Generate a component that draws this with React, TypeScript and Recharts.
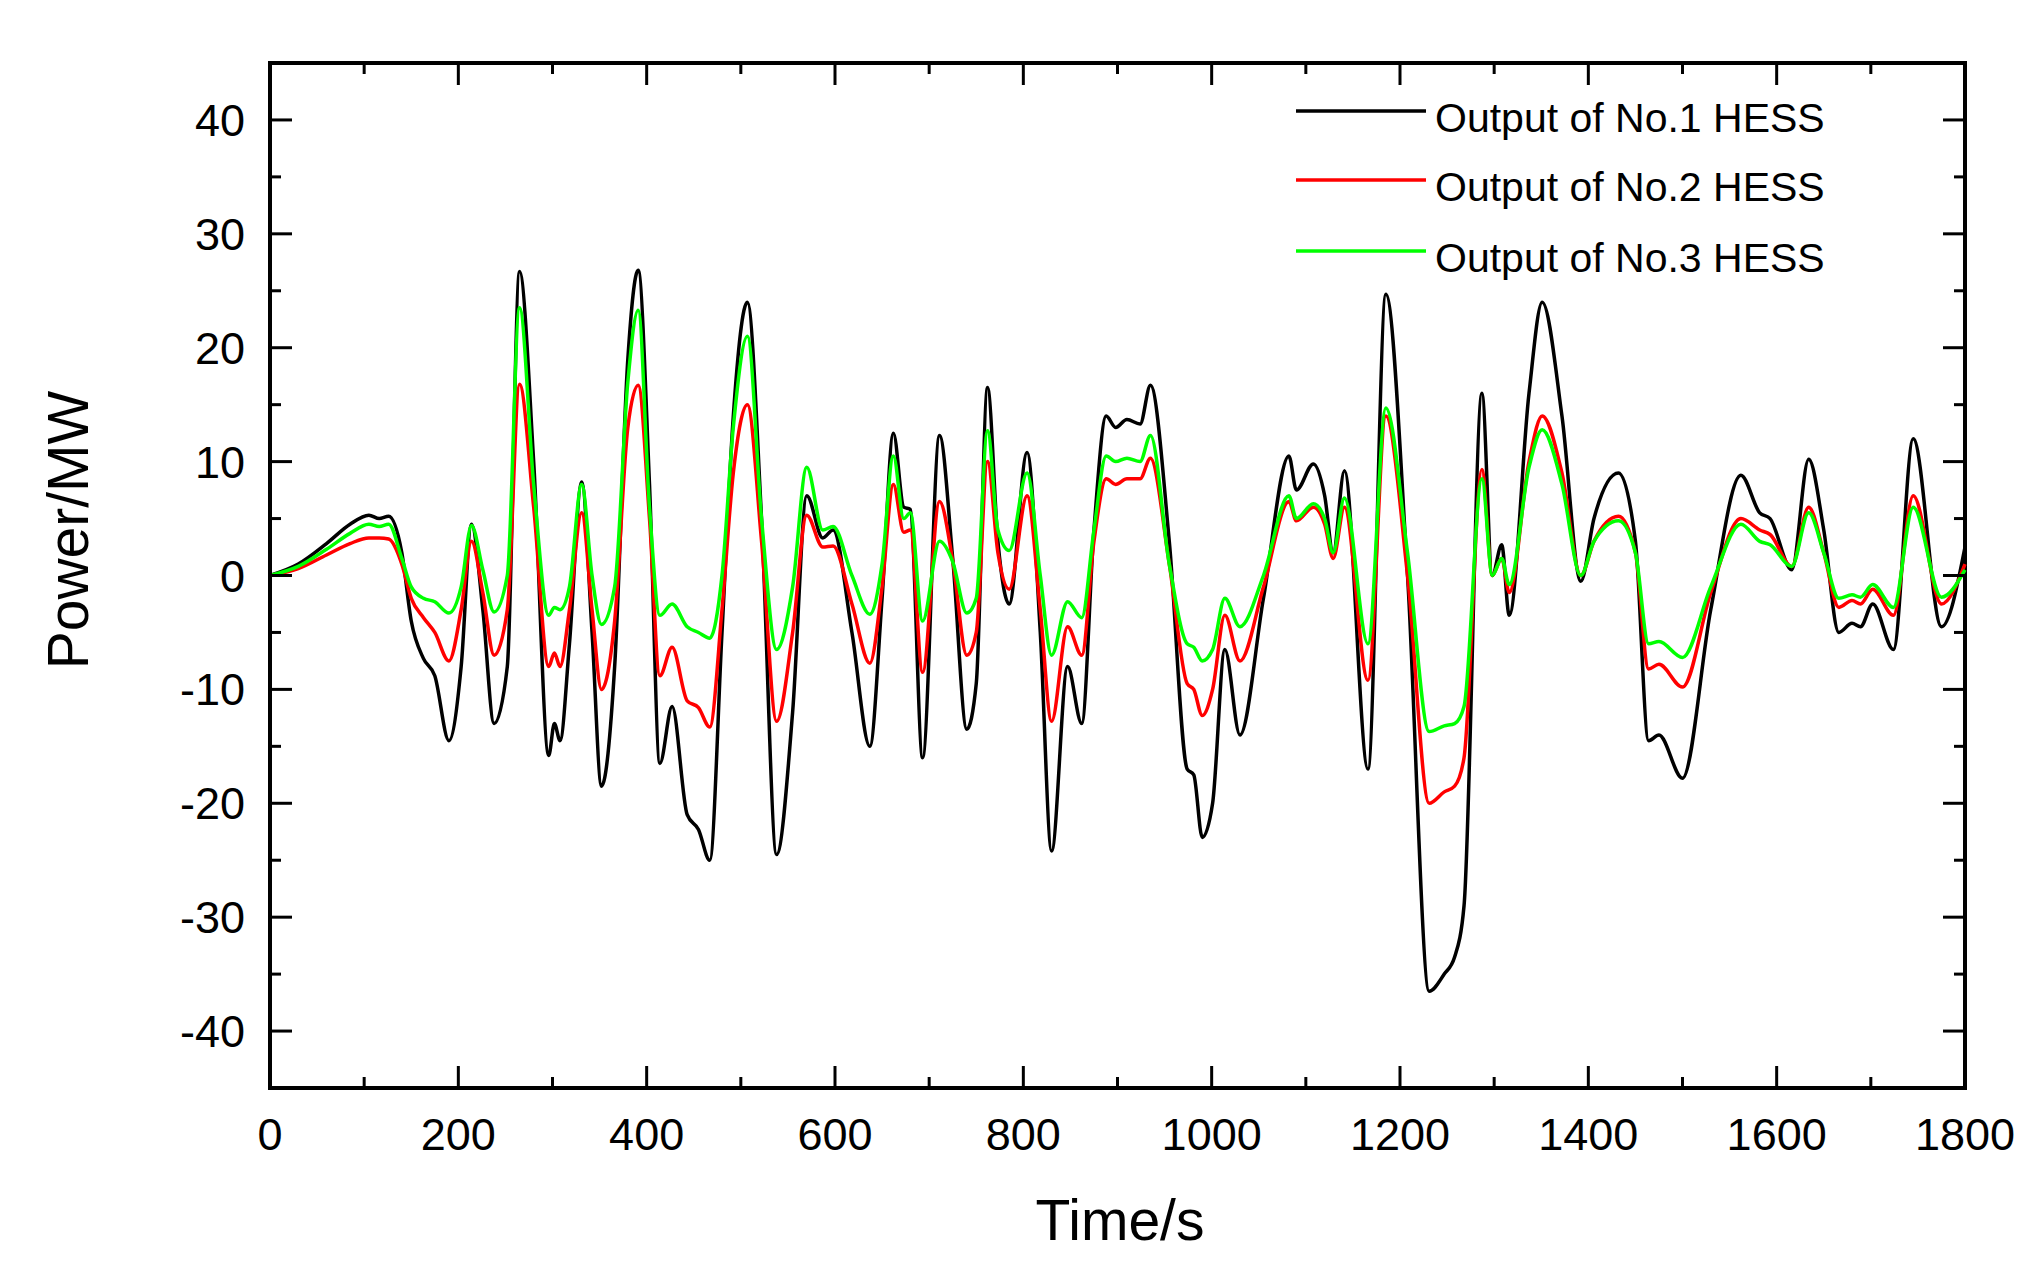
import React from "react";
import {
  LineChart,
  Line,
  XAxis,
  YAxis,
  Legend,
  ReferenceArea,
  Label,
} from "recharts";

const times = [
  0, 30, 60, 85, 105, 116, 126, 140, 150, 163, 175, 190, 203, 214, 226, 238,
  252, 265, 280, 296, 302, 308, 318, 331, 342, 352, 366, 380, 391, 403, 414,
  427, 443, 455, 467, 480, 492, 507, 522, 538, 555, 570, 587, 598, 618, 637,
  650, 662, 673, 680, 693, 711, 725, 740, 750, 762, 773, 785, 804, 818, 830,
  847, 862, 875, 888, 898, 910, 924, 935, 955, 974, 981, 990, 1001, 1014, 1030,
  1055, 1082, 1090, 1108, 1120, 1129, 1141, 1166, 1185, 1208, 1231, 1247, 1258,
  1268, 1287, 1298, 1308, 1316, 1337, 1351, 1372, 1392, 1406, 1432, 1450, 1464,
  1475, 1500, 1530, 1562, 1582, 1593, 1616, 1634, 1650, 1666, 1680, 1689, 1702,
  1724, 1745, 1775, 1800,
];

const hess1 = [
  0, 1.0, 2.8, 4.5, 5.3, 5.0, 5.2, 2, -4, -7.3, -8.8, -14.5, -8, 4.5, -3, -13,
  -8, 26.7, 10, -15.8, -13, -14.5, -6, 8.2, -5, -18.5, -8, 19, 26.8, 8, -16.5,
  -11.5, -21, -22.3, -25, -5, 14, 24, 5, -24.5, -12, 7, 3.3, 4, -5, -15,
  -2, 12.5, 6, 5.8, -16, 12.3, 1.5, -13.5, -9.5, 16.5, 3, -2.5, 10.8, -5, -24.2,
  -8, -13, 4, 14, 13, 13.7, 13.3, 16.7, 3, -17, -17.5, -23, -20, -6.5, -14,
  -2, 10.5, 7.5, 9.8, 7, 2, 9.2, -17, 24.7, 0, -36.5, -35, -33.5,
  -29, 16, 0, 2.7, -3.5, 16, 24, 14, -0.5, 5, 9, 3, -14.5,
  -14, -17.8, -3, 8.8, 5.5, 5, 0.5, 10.2, 4, -5, -4.2, -4.5, -2.5,
  -6.5, 12, -4.5, 2.5,
];

const hess2 = [
  0, 0.6, 1.8, 2.8, 3.3, 3.3, 3.2, 1, -2, -3.7, -5, -7.5, -3, 3, -1.5, -7,
  -3, 16.8, 6, -8, -6.8, -8, -3, 5.5, -3, -10, -4, 13, 16.7, 5, -8.8,
  -6.3, -11, -11.6, -13.3, -3, 9, 15, 3, -12.8, -5, 5.3, 2.5, 2.6, -2.5, -7.7,
  -1, 8, 3.8, 4, -8.5, 6.5, 1.3, -7, -5, 10, 2, -1.2, 7, -3, -12.8,
  -4.5, -7, 3, 8.5, 8, 8.5, 8.5, 10.3, 1, -9.5, -10, -12.3, -10, -3.5, -7.5,
  -1, 6.5, 4.8, 6, 4.5, 1.5, 6, -9.2, 14, 0, -20, -19, -18.5,
  -16, 9.3, 0, 1.5, -1.5, 10, 14, 9, 0, 3, 5.2, 2, -8.2,
  -7.8, -9.8, -1.5, 5, 4, 3.6, 0.8, 6, 2, -2.8, -2.2, -2.5, -1.2,
  -3.5, 7, -2.5, 1,
];

const hess3 = [
  0, 0.8, 2.3, 3.7, 4.5, 4.3, 4.5, 1.5, -1, -2, -2.3, -3.3, -1, 4.4, 0.5, -3.2,
  0, 23.5, 8, -3.5, -2.8, -3, -1, 8, 0, -4.3, -1, 17, 23.3, 6, -3.5,
  -2.5, -4.5, -5, -5.5, 0, 13, 21, 5, -6.5, -1, 9.5, 4, 4.3, 0, -3.4,
  1, 10.5, 5, 5.5, -4, 3, 1.2, -3.3, -2, 12.7, 4, 2.2, 9, 0, -7,
  -2.3, -3.7, 4, 10.5, 10, 10.3, 10, 12.3, 1, -6, -6.3, -7.5, -6.5, -2, -4.5,
  0, 7, 5, 6.3, 5, 2, 6.8, -6, 14.7, 2, -13.7, -13.2, -13,
  -11.5, 8.5, 0, 1.5, -0.8, 9.5, 12.8, 8, 0, 3, 4.8, 2, -6,
  -5.8, -7.2, -1, 4.5, 3, 2.7, 0.8, 5.5, 2, -2, -1.7, -1.9, -0.8,
  -2.8, 6, -1.9, 0.5,
];

const xTicks = [
  0, 100, 200, 300, 400, 500, 600, 700, 800, 900, 1000, 1100, 1200, 1300, 1400,
  1500, 1600, 1700, 1800,
];
const yTicks = [-40, -35, -30, -25, -20, -15, -10, -5, 0, 5, 10, 15, 20, 25, 30, 35, 40];

const seriesNames = ["Output of No.1 HESS", "Output of No.2 HESS", "Output of No.3 HESS"];
const seriesColors = ["#000000", "#ff0000", "#00ff00"];

const data = times.map((t, i) => ({
  t,
  s1: hess1[i],
  s2: hess2[i],
  s3: hess3[i],
}));

const W = 2024;
const H = 1257;
const TOP = 55;
const RIGHT = 1957;
const FONT = "'Liberation Sans', Arial, sans-serif";

const XTick = (props: any) => {
  const { x, y, payload } = props;
  const v = payload.value;
  const major = v % 200 === 0;
  const len = major ? 22 : 11;
  return (
    <g>
      <line x1={x} y1={y} x2={x} y2={y - len} stroke="#000" strokeWidth={3} />
      <line x1={x} y1={TOP} x2={x} y2={TOP + len} stroke="#000" strokeWidth={3} />
      {major && (
        <text
          x={x}
          y={y + 62}
          textAnchor="middle"
          fontSize={45}
          fontFamily={FONT}
          fill="#000"
        >
          {v}
        </text>
      )}
    </g>
  );
};

const YTick = (props: any) => {
  const { x, y, payload } = props;
  const v = payload.value;
  const major = v % 10 === 0;
  const len = major ? 22 : 11;
  return (
    <g>
      <line x1={x} y1={y} x2={x + len} y2={y} stroke="#000" strokeWidth={3} />
      <line x1={RIGHT} y1={y} x2={RIGHT - len} y2={y} stroke="#000" strokeWidth={3} />
      {major && (
        <text
          x={x - 25}
          y={y + 16}
          textAnchor="end"
          fontSize={45}
          fontFamily={FONT}
          fill="#000"
        >
          {v}
        </text>
      )}
    </g>
  );
};

const LegendBox = () => (
  <svg width={700} height={230}>
    {seriesNames.map((name, i) => {
      const base = [64, 133, 204][i];
      return (
        <g key={name}>
          <line
            x1={8}
            x2={138}
            y1={base - 21}
            y2={base - 21}
            stroke={seriesColors[i]}
            strokeWidth={3.5}
          />
          <text x={147} y={base} fontSize={41} fontFamily={FONT} fill="#000">
            {name}
          </text>
        </g>
      );
    })}
  </svg>
);

export default function App() {
  return (
    <LineChart
      width={W}
      height={H}
      data={data}
      margin={{ top: TOP, right: W - RIGHT, bottom: 77, left: 62 }}
    >
      <XAxis
        dataKey="t"
        type="number"
        domain={[0, 1800]}
        ticks={xTicks}
        interval={0}
        tickSize={0}
        tickMargin={0}
        tickLine={false}
        axisLine={{ stroke: "#000", strokeWidth: 4 }}
        tick={XTick}
        height={100}
      >
        <Label
          content={() => (
            <text
              x={1112}
              y={1232}
              textAnchor="middle"
              fontSize={57}
              fontFamily={FONT}
              fill="#000"
            >
              Time/s
            </text>
          )}
        />
      </XAxis>
      <YAxis
        type="number"
        domain={[-45, 45]}
        ticks={yTicks}
        interval={0}
        tickSize={0}
        tickMargin={0}
        tickLine={false}
        axisLine={{ stroke: "#000", strokeWidth: 4 }}
        tick={YTick}
        width={200}
      >
        <Label
          content={() => (
            <text
              x={80}
              y={522}
              transform="rotate(-90 80 522)"
              textAnchor="middle"
              fontSize={57}
              fontFamily={FONT}
              fill="#000"
            >
              Power/MW
            </text>
          )}
        />
      </YAxis>
      <ReferenceArea
        x1={0}
        x2={1800}
        y1={-45}
        y2={45}
        fill="none"
        stroke="#000"
        strokeWidth={4}
        ifOverflow="visible"
      />
      <Legend
        layout="horizontal"
        verticalAlign="middle"
        align="center"
        content={LegendBox}
        wrapperStyle={{ left: 1280, top: 60, width: 700, height: 230 }}
      />
      <Line
        type="monotone"
        dataKey="s1"
        name={seriesNames[0]}
        stroke={seriesColors[0]}
        strokeWidth={3.5}
        dot={false}
        isAnimationActive={false}
      />
      <Line
        type="monotone"
        dataKey="s2"
        name={seriesNames[1]}
        stroke={seriesColors[1]}
        strokeWidth={3.5}
        dot={false}
        isAnimationActive={false}
      />
      <Line
        type="monotone"
        dataKey="s3"
        name={seriesNames[2]}
        stroke={seriesColors[2]}
        strokeWidth={3.5}
        dot={false}
        isAnimationActive={false}
      />
    </LineChart>
  );
}
